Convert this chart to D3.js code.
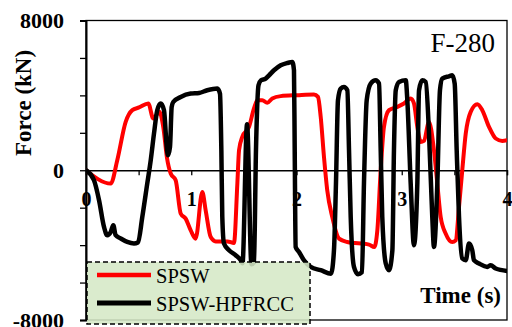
<!DOCTYPE html>
<html>
<head>
<meta charset="utf-8">
<script src="https://cdn.jsdelivr.net/npm/d3@7/dist/d3.min.js"></script>
<style>
  html, body { margin: 0; padding: 0; background: #fff; }
  svg { display: block; }
</style>
</head>
<body>
<svg id="chart" width="512" height="327"></svg>
<script>
// Time history of storey force (kN) for specimen F-280
const seriesNames = ["SPSW", "SPSW-HPFRCC"];
const seriesColors = ["#ff0000", "#000000"];

const spswTime = [0, 0.235, 0.297, 0.377, 0.44, 0.504, 0.592, 0.639, 0.696, 0.734, 0.77, 0.805, 0.852, 0.9, 0.947, 0.995, 1.042, 1.105, 1.137, 1.185, 1.232, 1.343, 1.406, 1.438, 1.454, 1.485, 1.549, 1.596, 1.628, 1.675, 1.722, 1.77, 1.85, 2.008, 2.166, 2.204, 2.23, 2.261, 2.292, 2.34, 2.404, 2.483, 2.689, 2.739, 2.768, 2.8, 2.831, 2.879, 2.958, 3.021, 3.085, 3.116, 3.148, 3.18, 3.211, 3.259, 3.306, 3.338, 3.37, 3.418, 3.48, 3.513, 3.544, 3.575, 3.608, 3.655, 3.718, 3.765, 3.829, 3.893, 3.955, 4.0];
const spswForce = [0, -712, 535, 2584, 3210, 3354, 3568, 2766, 3119, 2317, 642, -177, -535, -2317, -2584, -3210, -3654, -1161, -2140, -3568, -3800, -3800, -3890, -712, 1070, 1782, 2317, 3300, 3745, 3745, 3600, 3836, 3960, 4012, 4050, 3920, 2850, 712, -1070, -2500, -3654, -3836, -3975, -4100, -3210, 0, 2317, 3210, 3387, 3568, 3836, 3568, 2317, 1514, 1568, 2584, 1070, -712, -2500, -3387, -3836, -3745, -1963, 0, 1963, 3119, 3530, 3210, 2317, 1696, 1568, 1605];

const hpfTime = [0, 0.076, 0.124, 0.171, 0.202, 0.235, 0.259, 0.282, 0.33, 0.392, 0.456, 0.494, 0.535, 0.582, 0.615, 0.646, 0.677, 0.71, 0.741, 0.767, 0.779, 0.798, 0.814, 0.829, 0.9, 0.995, 1.074, 1.152, 1.248, 1.273, 1.286, 1.295, 1.311, 1.359, 1.422, 1.47, 1.487, 1.53, 1.572, 1.596, 1.615, 1.639, 1.663, 1.707, 1.739, 1.786, 1.85, 1.913, 1.96, 1.976, 1.983, 1.992, 2.024, 2.071, 2.135, 2.23, 2.328, 2.356, 2.375, 2.394, 2.42, 2.451, 2.483, 2.499, 2.515, 2.546, 2.584, 2.622, 2.641, 2.667, 2.705, 2.753, 2.784, 2.8, 2.815, 2.848, 2.879, 2.911, 2.926, 2.943, 2.974, 3.038, 3.053, 3.085, 3.116, 3.148, 3.164, 3.195, 3.228, 3.259, 3.29, 3.306, 3.338, 3.363, 3.385, 3.449, 3.48, 3.503, 3.522, 3.544, 3.575, 3.608, 3.639, 3.67, 3.686, 3.734, 3.813, 3.845, 3.893, 4.0];
const hpfForce = [0, -534, -1602, -3027, -3471, -3295, -2937, -3471, -3647, -3829, -3914, -3861, -2494, -710, 534, 1960, 3204, 3562, 3204, 1244, 801, 1244, 3380, 3647, 3914, 4096, 4128, 4272, 4363, 4096, 1068, -2494, -3914, -4272, -4539, -4806, -4966, 2456, -5020, -4913, 1068, 4539, 4806, 4897, 5073, 5340, 5607, 5730, 5783, 5340, 1068, -4096, -4363, -4806, -5164, -5340, -5527, -4272, -710, 3738, 4363, 4448, 4272, 1068, -2494, -5164, -5554, -5447, -710, 3738, 4630, 4806, 4630, 1068, -2494, -4982, -5340, -4272, 1068, 4272, 4715, 4806, 3738, -710, -4005, -710, 4272, 4806, 4715, 1960, -2494, -4096, -710, 4272, 4897, 5020, 5073, 4630, 1068, -2494, -4715, -4806, -3914, -4272, -4806, -4982, -5164, -5073, -5249, -5377];

const xTickValues = [0, 0.5, 1, 1.5, 2, 2.5, 3, 3.5, 4];
const xTickLabels = ["0", "1", "2", "3", "4"];
const yTickValues = [-8000, -6000, -4000, -2000, 0, 2000, 4000, 6000, 8000];
const yTickLabels = ["-8000", "0", "8000"];

const series = [
  { name: seriesNames[0], color: seriesColors[0], t: spswTime, f: spswForce, width: 4 },
  { name: seriesNames[1], color: seriesColors[1], t: hpfTime, f: hpfForce, width: 4.5 }
];

const svg = d3.select("#chart");
const plotLeft = 86, plotRight = 507, plotTop = 20.5, plotBottom = 320;
const x = d3.scaleLinear().domain([0, 4]).range([plotLeft, plotRight]);
const y = d3.scaleLinear().domain([-8000, 8000]).range([plotBottom, plotTop]);
const serif = "'Liberation Serif', 'Times New Roman', serif";

svg.append("rect").attr("width", 512).attr("height", 327).attr("fill", "#fff");

svg.append("defs").append("clipPath").attr("id", "plotClip")
  .append("rect").attr("x", plotLeft).attr("y", plotTop)
  .attr("width", plotRight - plotLeft).attr("height", plotBottom - plotTop);

// plot frame
svg.append("rect")
  .attr("x", plotLeft).attr("y", plotTop)
  .attr("width", plotRight - plotLeft).attr("height", plotBottom - plotTop)
  .attr("fill", "none").attr("stroke", "#000").attr("stroke-width", 1.3);

// y axis with outward ticks; labels only at the extremes and zero
const yAxis = d3.axisLeft(y).tickValues(yTickValues).tickSize(6)
  .tickFormat(d => yTickLabels.includes(String(d)) ? String(d) : "");
const yg = svg.append("g").attr("transform", `translate(${plotLeft},0)`).call(yAxis);
yg.select(".domain").attr("stroke-width", 2);
yg.selectAll(".tick line").attr("stroke-width", 1.3);
yg.selectAll(".tick text")
  .attr("x", -22).attr("dy", "0.33em")
  .attr("font-family", serif).attr("font-weight", "bold").attr("font-size", 22).attr("fill", "#000");

// x axis drawn along the zero line
const xAxis = d3.axisBottom(x).tickValues(xTickValues).tickSize(5)
  .tickFormat(d => Number.isInteger(d) ? xTickLabels[d] : "");
const xg = svg.append("g").attr("transform", `translate(0,${y(0)})`).call(xAxis);
xg.select(".domain").attr("stroke-width", 1.3);
xg.selectAll(".tick line").attr("stroke-width", 1.3);
xg.selectAll(".tick text")
  .attr("y", 22).attr("dy", "0.71em")
  .attr("font-family", serif).attr("font-weight", "bold").attr("font-size", 20).attr("fill", "#000");

// force histories
const lineGen = d3.line().curve(d3.curveMonotoneX)
  .x(d => x(d[0])).y(d => y(d[1]));
const lines = svg.append("g").attr("clip-path", "url(#plotClip)");
series.forEach(s => {
  lines.append("path")
    .datum(s.t.map((t, i) => [t, s.f[i]]))
    .attr("d", lineGen)
    .attr("fill", "none")
    .attr("stroke", s.color)
    .attr("stroke-width", s.width)
    .attr("stroke-linejoin", "round")
    .attr("stroke-linecap", "round");
});

// axis titles and specimen label
svg.append("text")
  .attr("transform", `translate(31,103) rotate(-90)`)
  .attr("text-anchor", "middle")
  .attr("font-family", serif).attr("font-weight", "bold").attr("font-size", 23)
  .text("Force (kN)");

svg.append("text")
  .attr("x", 501).attr("y", 303).attr("text-anchor", "end")
  .attr("font-family", serif).attr("font-weight", "bold").attr("font-size", 23)
  .text("Time (s)");

svg.append("text")
  .attr("x", 495).attr("y", 52).attr("text-anchor", "end")
  .attr("font-family", serif).attr("font-size", 27)
  .text("F-280");

// legend
const lg = svg.append("g");
lg.append("rect")
  .attr("x", 87).attr("y", 262).attr("width", 223).attr("height", 62)
  .attr("fill", "#d5e8c6").attr("fill-opacity", 0.88)
  .attr("stroke", "#000").attr("stroke-width", 1.5).attr("stroke-dasharray", "5,3");
series.forEach((s, i) => {
  const ly = 275 + i * 28;
  lg.append("line")
    .attr("x1", 97).attr("x2", 151).attr("y1", ly).attr("y2", ly)
    .attr("stroke", s.color).attr("stroke-width", s.width + 0.5);
  lg.append("text")
    .attr("x", 156).attr("y", ly + 7.5)
    .attr("font-family", serif).attr("font-size", 20.5)
    .text(s.name);
});
</script>
</body>
</html>
